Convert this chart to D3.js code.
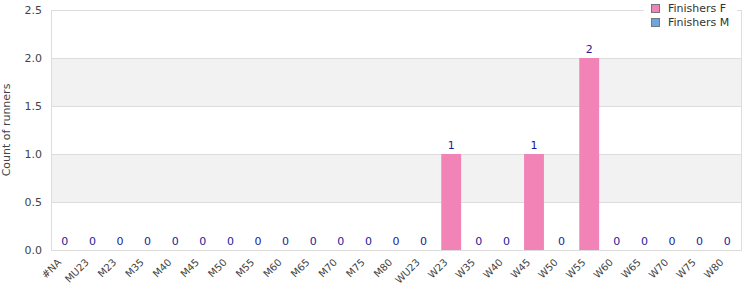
<!DOCTYPE html>
<html><head><meta charset="utf-8">
<script src="https://cdn.jsdelivr.net/npm/d3@7"></script>
<style>body{margin:0;background:#fff;font-family:"DejaVu Sans",sans-serif;}</style>
</head><body><svg id="c" width="750" height="300"></svg>
<script>
const categories = ["#NA","MU23","M23","M35","M40","M45","M50","M55","M60","M65","M70","M75","M80","WU23","W23","W35","W40","W45","W50","W55","W60","W65","W70","W75","W80"];
const finishersF = [0,0,0,0,0,0,0,0,0,0,0,0,0,0,1,0,0,1,0,2,0,0,0,0,0];
const finishersM = [0,0,0,0,0,0,0,0,0,0,0,0,0,0,0,0,0,0,0,0,0,0,0,0,0];
const yTicks = [0,0.5,1.0,1.5,2.0,2.5];
const seriesNames = ["Finishers F","Finishers M"];
const colors = ["#f283b6","#6aa6e0"];

const svg = d3.select("#c");
const m = {l:51, r:9, t:10, b:50};
const W = 750, H = 300;
const x = d3.scaleBand().domain(categories).range([m.l, W-m.r]).paddingInner(0.28).paddingOuter(0.14);
const y = d3.scaleLinear().domain([0,2.5]).range([H-m.b, m.t]);

// stripes
for (let i=0;i<yTicks.length-1;i++){
  if (i%2===1){
    svg.append("rect").attr("x",m.l).attr("width",W-m.r-m.l)
      .attr("y",y(yTicks[i+1])).attr("height",y(yTicks[i])-y(yTicks[i+1])).attr("fill","#f2f2f2");
  }
}
// grid
svg.append("g").selectAll("line").data(yTicks).join("line")
  .attr("x1",m.l).attr("x2",W-m.r).attr("y1",d=>y(d)).attr("y2",d=>y(d))
  .attr("stroke","#dddddd").attr("stroke-width",1).attr("shape-rendering","crispEdges");
// border
svg.append("rect").attr("x",m.l).attr("y",m.t).attr("width",W-m.r-m.l).attr("height",H-m.b-m.t)
  .attr("fill","none").attr("stroke","#dddddd").attr("shape-rendering","crispEdges");

// stacked bars
const data = categories.map((c,i)=>({cat:c, F:finishersF[i], M:finishersM[i]}));
const stack = d3.stack().keys(["F","M"])(data);
stack.forEach((s,si)=>{
  svg.append("g").selectAll("rect").data(s).join("rect")
    .attr("x",d=>x(d.data.cat)).attr("width",x.bandwidth())
    .attr("y",d=>y(d[1])).attr("height",d=>y(d[0])-y(d[1]))
    .attr("fill",colors[si]);
});
// value labels
svg.append("g").selectAll("text").data(data).join("text")
  .attr("x",d=>x(d.cat)+x.bandwidth()/2).attr("y",d=>y(d.F+d.M)-5)
  .attr("text-anchor","middle").attr("font-size",11).attr("fill","#1c1c96")
  .text(d=>d.F+d.M);

// y axis
const ya = svg.append("g").attr("transform",`translate(${m.l},0)`)
  .call(d3.axisLeft(y).tickValues(yTicks).tickFormat(d3.format(".1f")).tickSize(0).tickPadding(9));
ya.select(".domain").remove();
ya.selectAll("text").attr("font-size",11).attr("fill","#444").attr("font-family","DejaVu Sans");

// x axis
const xa = svg.append("g").attr("transform",`translate(0,${H-m.b})`)
  .call(d3.axisBottom(x).tickSize(0).tickPadding(0));
xa.select(".domain").remove();
xa.selectAll("text").attr("font-size",10).attr("fill","#444").attr("font-family","DejaVu Sans")
  .attr("text-anchor","end").attr("dy",0)
  .attr("transform","translate(-3,13) rotate(-45)");

// y title
svg.append("text").attr("transform",`translate(10,${(m.t+H-m.b)/2}) rotate(-90)`)
  .attr("text-anchor","middle").attr("font-size",11).attr("fill","#444").text("Count of runners");

// legend
const lg = svg.append("g");
lg.append("rect").attr("x",644).attr("y",0).attr("width",93).attr("height",32).attr("fill","#fff");
seriesNames.forEach((n,i)=>{
  lg.append("rect").attr("x",651.5).attr("y",4.5+i*14).attr("width",8).attr("height",8)
    .attr("fill",colors[i]).attr("stroke","#777");
  lg.append("text").attr("x",668).attr("y",12+i*14).attr("font-size",11).attr("fill","#333").text(n);
});
</script></body></html>
